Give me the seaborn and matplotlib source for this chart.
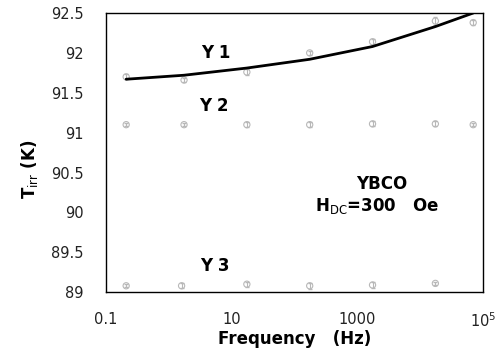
import matplotlib
matplotlib.use("Agg")
import matplotlib.pyplot as plt
import pandas as pd
import seaborn as sns

# data
freq = [0.21, 1.75, 17.5, 175, 1750, 17500, 70000]
y1_meas = [91.70, 91.66, 91.76, 92.00, 92.14, 92.40, 92.38]
y1_err = [0.03, 0.02, 0.04, 0.03, 0.04, 0.05, 0.03]
y1_fit = [91.67, 91.72, 91.81, 91.92, 92.08, 92.33, 92.50]
y2_meas = [91.10, 91.10, 91.10, 91.10, 91.11, 91.11, 91.10]
y2_err = [0.02, 0.02, 0.03, 0.03, 0.03, 0.03, 0.02]
freq3 = [0.21, 1.6, 17.5, 175, 1750, 17500]
y3_meas = [89.08, 89.08, 89.10, 89.08, 89.09, 89.11]
y3_err = [0.02, 0.03, 0.03, 0.04, 0.04, 0.02]

x_ticks = [0.1, 10, 1000, 1e5]
x_tick_labels = ["0.1", "10", "1000", r"10$^5$"]
y_ticks = [89, 89.5, 90, 90.5, 91, 91.5, 92, 92.5]
y_tick_labels = ["89", "89.5", "90", "90.5", "91", "91.5", "92", "92.5"]

sns.set_style("white")
plt.rcParams["font.family"] = ["DejaVu Sans"]
plt.rcParams["text.color"] = "black"
plt.rcParams["axes.labelcolor"] = "black"

fig = plt.figure(figsize=(5.02, 3.52), dpi=100)
ax = fig.add_axes([0.211, 0.170, 0.751, 0.793])

pt_color = "#b8b8b8"
for xs, ys, es in [(freq, y1_meas, y1_err), (freq, y2_meas, y2_err), (freq3, y3_meas, y3_err)]:
    ax.errorbar(xs, ys, yerr=es, fmt="none", ecolor=pt_color, elinewidth=0.8, capsize=1.5)
    sns.scatterplot(x=xs, y=ys, ax=ax, marker="o", s=20, facecolor="none",
                    edgecolor=pt_color, linewidth=0.8, legend=False)

fit = pd.DataFrame({"f": freq, "T": y1_fit})
sns.lineplot(data=fit, x="f", y="T", ax=ax, color="black", linewidth=2.0)

ax.set_xscale("log")
ax.set_xlim(0.1, 1e5)
ax.set_ylim(89, 92.5)
ax.set_xticks(x_ticks)
ax.set_xticklabels(x_tick_labels)
ax.xaxis.set_minor_locator(matplotlib.ticker.NullLocator())
ax.set_yticks(y_ticks)
ax.set_yticklabels(y_tick_labels)
ax.tick_params(axis="x", length=0, labelsize=10.5, colors="#222222", pad=14)
ax.tick_params(axis="y", length=0, labelsize=10.5, colors="#222222", pad=16)

for s in ax.spines.values():
    s.set_color("black")
    s.set_linewidth(1.0)

ax.set_xlabel("Frequency   (Hz)", fontsize=12, fontweight="bold", labelpad=0)
ax.set_ylabel(r"T$_{\rm irr}$ (K)", fontsize=12, fontweight="bold")
ax.yaxis.set_label_coords(-0.175, 0.44)

ax.text(5.6, 92.0, "Y 1", fontsize=12, fontweight="bold", ha="center", va="center")
ax.text(5.3, 91.33, "Y 2", fontsize=12, fontweight="bold", ha="center", va="center")
ax.text(5.4, 89.325, "Y 3", fontsize=12, fontweight="bold", ha="center", va="center")
ax.text(2470, 90.35, "YBCO", fontsize=12, fontweight="bold", ha="center", va="center")
ax.text(213, 90.08, r"H$_{\rm DC}$=300   Oe", fontsize=12, fontweight="bold",
        ha="left", va="center")

fig.savefig("out.png", dpi=100)
